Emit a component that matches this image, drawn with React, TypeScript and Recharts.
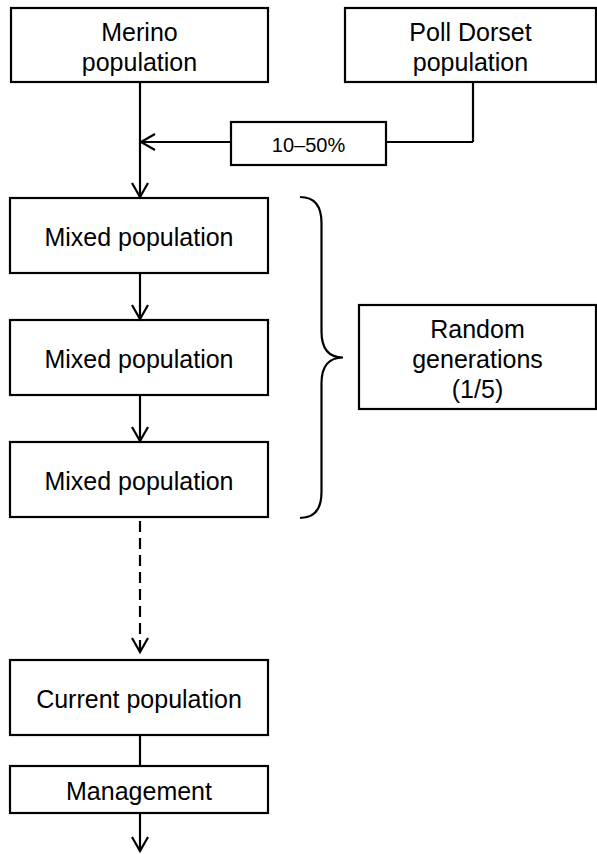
import React from 'react';
import { ComposedChart, XAxis, YAxis, Scatter, ReferenceArea, ReferenceLine, ReferenceDot } from 'recharts';

// Diagram units: one unit per pixel, y grows downward (reversed axis)
const W = 597;
const H = 854;

const nodeLabels: string[][] = [
  ['Merino', 'population'],
  ['Poll Dorset', 'population'],
  ['10–50%'],
  ['Mixed population'],
  ['Mixed population'],
  ['Mixed population'],
  ['Random', 'generations', '(1/5)'],
  ['Current population'],
  ['Management'],
];

// [x1, x2, y1, y2] for each node
const nodeBounds: number[][] = [
  [11, 268, 8, 82],
  [345, 596, 8, 82],
  [231, 386, 122, 165],
  [10, 268, 198, 273],
  [10, 268, 320, 395],
  [10, 268, 442, 517],
  [359, 596, 305, 409],
  [10, 268, 660, 735],
  [10, 268, 766, 813],
];

const nodeFont: number[] = [25, 25, 20, 25, 25, 25, 25, 25, 25];

// connector polylines
const edges: { pts: number[][]; dashed?: boolean }[] = [
  { pts: [[140, 82], [140, 197]] },
  { pts: [[473, 82], [473, 142], [386, 142]] },
  { pts: [[231, 142], [141, 142]] },
  { pts: [[140, 273], [140, 319]] },
  { pts: [[140, 395], [140, 441]] },
  { pts: [[140, 521], [140, 652]], dashed: true },
  { pts: [[140, 735], [140, 766]] },
  { pts: [[140, 813], [140, 851]] },
];

// arrow tips: x, y, direction
const arrows: { x: number; y: number; dir: 'down' | 'left' }[] = [
  { x: 140, y: 197, dir: 'down' },
  { x: 141, y: 142, dir: 'left' },
  { x: 140, y: 319, dir: 'down' },
  { x: 140, y: 441, dir: 'down' },
  { x: 140, y: 652, dir: 'down' },
  { x: 140, y: 851, dir: 'down' },
];

// brace spanning the mixed generations
const brace = { x1: 300, x2: 343, y1: 197, y2: 518 };

const centers = nodeBounds.map((b) => ({ x: (b[0] + b[1]) / 2, y: (b[2] + b[3]) / 2 }));

const font = '"Liberation Sans", Arial, Helvetica, sans-serif';

function NodeBox(props: any) {
  const { x, y, width, height, lines, size } = props;
  const lh = 30;
  const cx = x + width / 2;
  const cy = y + height / 2 + 1.5;
  return (
    <g>
      <rect x={x} y={y} width={width} height={height} fill="#fff" stroke="#000" strokeWidth={2.2} />
      {lines.map((l: string, i: number) => (
        <text
          key={i}
          x={cx}
          y={cy + (i - (lines.length - 1) / 2) * lh}
          textAnchor="middle"
          dominantBaseline="central"
          fontFamily={font}
          fontSize={size}
          fill="#000"
        >
          {l}
        </text>
      ))}
    </g>
  );
}

function ArrowHead(props: any) {
  const { cx, cy, dir } = props;
  if (cx == null || cy == null) return null;
  const d =
    dir === 'down'
      ? `M${cx - 8},${cy - 14} L${cx},${cy} L${cx + 8},${cy - 14}`
      : `M${cx + 14},${cy - 8} L${cx},${cy} L${cx + 14},${cy + 8}`;
  return <path d={d} fill="none" stroke="#000" strokeWidth={2.2} />;
}

function Brace(props: any) {
  const { x, y, width, height } = props;
  const xm = x + width * 0.5;
  const xe = x + width;
  const ym = y + height / 2;
  const y2 = y + height;
  const r = 26;
  const d = `M${x},${y} Q${xm},${y} ${xm},${y + r} L${xm},${ym - r} Q${xm},${ym} ${xe},${ym} Q${xm},${ym} ${xm},${ym + r} L${xm},${y2 - r} Q${xm},${y2} ${x},${y2}`;
  return <path d={d} fill="none" stroke="#000" strokeWidth={2.2} />;
}

export default function App() {
  return (
    <div style={{ position: 'absolute', left: 0, top: 0, width: W, height: H, background: '#fff' }}>
      <ComposedChart width={W} height={H} margin={{ top: 0, right: 0, bottom: 0, left: 0 }}>
        <XAxis type="number" dataKey="x" domain={[0, W]} hide allowDataOverflow />
        <YAxis type="number" dataKey="y" domain={[0, H]} reversed hide allowDataOverflow />
        <Scatter data={centers} fill="none" shape={() => null} isAnimationActive={false} />

        {edges.map((e, i) =>
          e.pts.slice(1).map((p, j) => (
            <ReferenceLine
              key={`e${i}-${j}`}
              segment={[
                { x: e.pts[j][0], y: e.pts[j][1] },
                { x: p[0], y: p[1] },
              ]}
              stroke="#000"
              strokeWidth={2.2}
              strokeDasharray={e.dashed ? '11 6' : undefined}
              ifOverflow="visible"
            />
          ))
        )}

        {nodeBounds.map((b, i) => (
          <ReferenceArea
            key={`n${i}`}
            x1={b[0]}
            x2={b[1]}
            y1={b[2]}
            y2={b[3]}
            ifOverflow="visible"
            shape={(p: any) => <NodeBox {...p} lines={nodeLabels[i]} size={nodeFont[i]} />}
          />
        ))}

        <ReferenceArea
          x1={brace.x1}
          x2={brace.x2}
          y1={brace.y1}
          y2={brace.y2}
          ifOverflow="visible"
          shape={(p: any) => <Brace {...p} />}
        />

        {arrows.map((a, i) => (
          <ReferenceDot
            key={`a${i}`}
            x={a.x}
            y={a.y}
            ifOverflow="visible"
            shape={(p: any) => <ArrowHead {...p} dir={a.dir} />}
          />
        ))}
      </ComposedChart>
    </div>
  );
}
